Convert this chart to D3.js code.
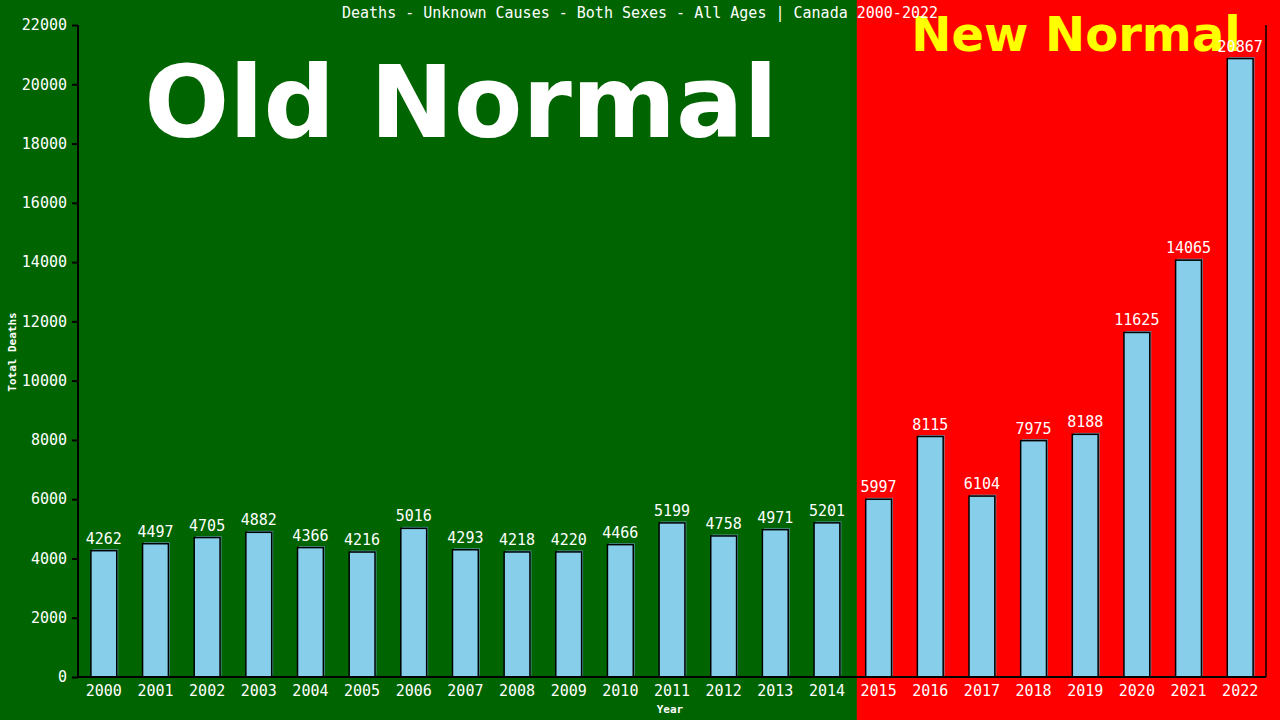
<!DOCTYPE html>
<html>
<head>
<meta charset="utf-8">
<script src="https://cdn.jsdelivr.net/npm/d3@7"></script>
<style>
    body { margin: 0; background: #006400; }
    text { font-family: "DejaVu Sans Mono", monospace; }
</style>
</head>
<body>
<svg id="chart" width="1280" height="720"></svg>
<script>
const years = ['2000', '2001', '2002', '2003', '2004', '2005', '2006', '2007', '2008', '2009', '2010', '2011',
    '2012', '2013', '2014', '2015', '2016', '2017', '2018', '2019', '2020', '2021', '2022'];
const deaths = [4262, 4497, 4705, 4882, 4366, 4216, 5016, 4293, 4218, 4220, 4466, 5199,
    4758, 4971, 5201, 5997, 8115, 6104, 7975, 8188, 11625, 14065, 20867];
const yTicks = [0, 2000, 4000, 6000, 8000, 10000, 12000, 14000, 16000, 18000, 20000, 22000];
const firstNewYear = '2015';

const title = 'Deaths - Unknown Causes - Both Sexes - All Ages | Canada 2000-2022';

const width = 1280, height = 720;
const margin = {top: 25, right: 14, bottom: 43, left: 78};

const svg = d3.select('#chart');

const x = d3.scaleBand()
    .domain(years)
    .range([margin.left, width - margin.right])
    .paddingInner(0.5)
    .paddingOuter(0.25);

const y = d3.scaleLinear()
    .domain([0, 22000])
    .range([height - margin.bottom, margin.top]);

// background split: old normal / new normal
const splitX = x(firstNewYear) - x.step() * x.paddingInner() / 2 + 4;

svg.append('rect')
    .attr('x', 0).attr('y', 0)
    .attr('width', splitX).attr('height', height)
    .attr('fill', '#006400');

svg.append('rect')
    .attr('x', splitX).attr('y', 0)
    .attr('width', width - splitX).attr('height', height)
    .attr('fill', '#ff0000');

svg.append('text')
    .attr('x', 461).attr('y', 137)
    .attr('text-anchor', 'middle')
    .style('font-family', '"DejaVu Sans", sans-serif')
    .style('font-weight', 'bold')
    .style('font-size', '100px')
    .attr('fill', '#ffffff')
    .text('Old Normal');

svg.append('text')
    .attr('x', 1076).attr('y', 51)
    .attr('text-anchor', 'middle')
    .style('font-family', '"DejaVu Sans", sans-serif')
    .style('font-weight', 'bold')
    .style('font-size', '48px')
    .attr('fill', '#ffff00')
    .text('New Normal');

// bars
const bars = svg.append('g');
const data = years.map((year, i) => ({year, value: deaths[i]}));

bars.selectAll('rect.shadow')
    .data(data)
    .join('rect')
    .attr('class', 'shadow')
    .attr('x', d => x(d.year) + 1.5)
    .attr('y', d => y(d.value) - 1.5)
    .attr('width', x.bandwidth())
    .attr('height', d => y(0) - y(d.value))
    .attr('fill', '#5f9fb4')
    .attr('opacity', 0.85);

bars.selectAll('rect.bar')
    .data(data)
    .join('rect')
    .attr('class', 'bar')
    .attr('x', d => x(d.year))
    .attr('y', d => y(d.value))
    .attr('width', x.bandwidth())
    .attr('height', d => y(0) - y(d.value))
    .attr('fill', '#87ceeb')
    .attr('stroke', '#000')
    .attr('stroke-width', 1.5);

bars.selectAll('text.value')
    .data(data)
    .join('text')
    .attr('class', 'value')
    .attr('x', d => x(d.year) + x.bandwidth() / 2)
    .attr('y', d => y(d.value) - 7)
    .attr('text-anchor', 'middle')
    .attr('fill', '#fff')
    .style('font-size', '15px')
    .text(d => d.value);

// axes
const yAxis = svg.append('g')
    .attr('transform', `translate(${margin.left},0)`)
    .call(d3.axisLeft(y).tickValues(yTicks).tickSize(6).tickPadding(5).tickFormat(d3.format('d')));

yAxis.select('.domain').attr('stroke', '#000').attr('stroke-width', 2).attr('d', `M0,${y(0)}V${margin.top}`);
yAxis.selectAll('.tick line').attr('stroke', '#000').attr('stroke-width', 2);
yAxis.selectAll('.tick text')
    .attr('fill', '#fff')
    .style('font-size', '15px')
    .style('font-family', '"DejaVu Sans Mono", monospace');

const xAxis = svg.append('g')
    .attr('transform', `translate(0,${y(0)})`)
    .call(d3.axisBottom(x).tickSize(0).tickPadding(8));

xAxis.select('.domain').attr('stroke', '#000').attr('stroke-width', 2)
    .attr('d', `M${margin.left},0H${width - margin.right}`);
xAxis.selectAll('.tick text')
    .attr('fill', '#fff')
    .style('font-size', '15px')
    .style('font-family', '"DejaVu Sans Mono", monospace');

// right frame line
svg.append('line')
    .attr('x1', width - margin.right).attr('x2', width - margin.right)
    .attr('y1', margin.top).attr('y2', y(0))
    .attr('stroke', '#000')
    .attr('stroke-width', 1.5);

// titles
svg.append('text')
    .attr('x', 640).attr('y', 18)
    .attr('text-anchor', 'middle')
    .attr('fill', '#fff')
    .style('font-size', '15px')
    .text(title);

svg.append('text')
    .attr('x', 670).attr('y', 713)
    .attr('text-anchor', 'middle')
    .attr('fill', '#fff')
    .style('font-size', '11px')
    .style('font-weight', 'bold')
    .text('Year');

svg.append('text')
    .attr('transform', `translate(16,${352}) rotate(-90)`)
    .attr('text-anchor', 'middle')
    .attr('fill', '#fff')
    .style('font-size', '11px')
    .style('font-weight', 'bold')
    .text('Total Deaths');
</script>
</body>
</html>
